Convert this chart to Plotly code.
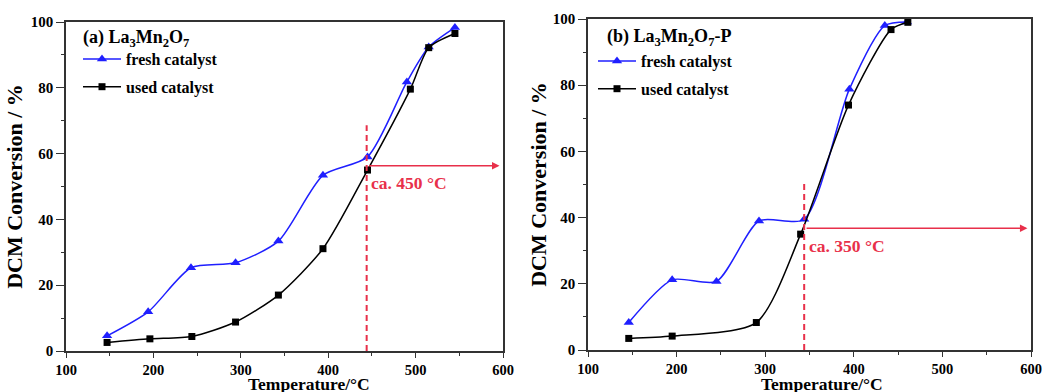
import plotly.graph_objects as go

# ---- data ----
a_fresh_T = [147, 194, 243, 294, 343, 394, 445, 490, 515, 545]
a_fresh_C = [4.6, 11.9, 25.3, 26.8, 33.4, 53.4, 59.0, 81.8, 92.4, 98.3]
a_used_T = [147, 196, 244, 294, 343, 394, 445, 494, 515, 545]
a_used_C = [2.6, 3.7, 4.4, 8.8, 17.0, 31.1, 55.0, 79.6, 92.2, 96.5]

b_fresh_T = [146, 195, 245, 293, 344, 395, 435, 460]
b_fresh_C = [8.3, 21.2, 20.7, 39.0, 39.5, 78.8, 98.0, 99.1]
b_used_T = [146, 195, 290, 340, 394, 442, 461]
b_used_C = [3.5, 4.2, 8.3, 35.0, 74.0, 96.8, 99.0]

a_mark_T, a_mark_top, a_arrow_C, a_label = 444, 68.6, 56.3, "ca. 450 °C"
b_mark_T, b_mark_top, b_arrow_C, b_label = 344, 50.9, 36.8, "ca. 350 °C"

x_ticks = [100, 200, 300, 400, 500, 600]
y_ticks = [0, 20, 40, 60, 80, 100]
x_title = "Temperature/°C"
y_title = "DCM Conversion / %"

W, H = 1042, 392
ML, MR, MT, MB = 66, 11, 19, 41
PW, PH = W - ML - MR, H - MT - MB
FONT = "Liberation Serif"
BLUE = "#1f1fff"
RED = "#e8304a"

fig = go.Figure()

def add_panel(xa, ya, leg, fT, fC, uT, uC):
    fig.add_trace(go.Scatter(x=fT, y=fC, mode="lines+markers", name="fresh catalyst",
                             line=dict(color=BLUE, width=1.5, shape="spline", smoothing=0.7),
                             marker=dict(symbol="triangle-up", size=9, color=BLUE),
                             xaxis=xa, yaxis=ya, legend=leg, legendgroup=leg + "f"))
    fig.add_trace(go.Scatter(x=uT, y=uC, mode="lines+markers", name="used catalyst",
                             line=dict(color="black", width=1.5, shape="spline", smoothing=0.7),
                             marker=dict(symbol="square", size=7, color="black"),
                             xaxis=xa, yaxis=ya, legend=leg, legendgroup=leg + "u"))

add_panel("x", "y", "legend", a_fresh_T, a_fresh_C, a_used_T, a_used_C)
add_panel("x2", "y2", "legend2", b_fresh_T, b_fresh_C, b_used_T, b_used_C)

# page pixel -> paper fraction (paper = area inside the margins)
def px_x(p):
    return (p - ML) / PW

def px_y(p):
    return (H - MB - p) / PH

axis_common = dict(showline=True, linecolor="#333", linewidth=1.5, mirror=True,
                   ticks="outside", tickwidth=1.2, tickcolor="#333",
                   showgrid=False, zeroline=False, automargin=False,
                   ticklabeloverflow="allow",
                   tickfont=dict(family=FONT, size=15, color="black", weight="bold"))

xcommon = dict(axis_common, range=[100, 600], tickvals=x_ticks, ticklen=5,
               tickfont=dict(family=FONT, size=14.5, color="black", weight="bold"),
               minor=dict(ticks="outside", ticklen=3, dtick=50, tickcolor="#333", tickwidth=1))

def ycommon(standoff):
    return dict(axis_common, range=[0, 100], tickvals=y_ticks, ticklen=8,
                minor=dict(ticks="outside", ticklen=3, dtick=10, tickcolor="#333", tickwidth=1),
                title=dict(text=y_title, standoff=standoff,
                           font=dict(family=FONT, size=22, color="black", weight="bold")))

legend_common = dict(xanchor="left", yanchor="top", bgcolor="rgba(0,0,0,0)",
                     traceorder="grouped", tracegroupgap=4, itemsizing="trace",
                     itemwidth=38,
                     font=dict(family=FONT, size=16, color="black", weight="bold"))

fig.update_layout(
    width=W, height=H, margin=dict(l=ML, r=MR, t=MT, b=MB, autoexpand=False),
    paper_bgcolor="white", plot_bgcolor="white",
    xaxis=dict(xcommon, domain=[px_x(66), px_x(503)], anchor="y"),
    yaxis=dict(ycommon(2), domain=[px_y(351), px_y(22)], anchor="x"),
    xaxis2=dict(xcommon, domain=[px_x(588), min(1.0, px_x(1031))], anchor="y2"),
    yaxis2=dict(ycommon(0), domain=[px_y(350), min(1.0, px_y(19))], anchor="x2"),
    legend=dict(legend_common, x=px_x(78), y=px_y(42)),
    legend2=dict(legend_common, x=px_x(593), y=px_y(44)),
    showlegend=True,
)

# x-axis titles
for cx in (309, 822):
    fig.add_annotation(x=px_x(cx), y=px_y(384), xref="paper", yref="paper",
                       xanchor="center", yanchor="middle", showarrow=False, text=x_title,
                       font=dict(family=FONT, size=17.5, color="black", weight="bold"))

# panel titles
fig.add_annotation(x=px_x(81), y=px_y(38), xref="paper", yref="paper", xanchor="left",
                   yanchor="middle", showarrow=False,
                   text="(a) La<sub>3</sub>Mn<sub>2</sub>O<sub>7</sub>",
                   font=dict(family=FONT, size=18, color="black", weight="bold"))
fig.add_annotation(x=px_x(605), y=px_y(37), xref="paper", yref="paper", xanchor="left",
                   yanchor="middle", showarrow=False,
                   text="(b) La<sub>3</sub>Mn<sub>2</sub>O<sub>7</sub>-P",
                   font=dict(family=FONT, size=18, color="black", weight="bold"))

def marker_lines(xr, yr, T, top, C, label):
    fig.add_shape(type="line", xref=xr, yref=yr, x0=T, x1=T, y0=0, y1=top,
                  line=dict(color=RED, width=2, dash="6px,4px"))
    fig.add_annotation(xref=xr, yref=yr, axref=xr, ayref=yr, x=596, y=C, ax=T + 1, ay=C,
                       showarrow=True, arrowhead=2, arrowsize=1, arrowwidth=1.5,
                       arrowcolor=RED, text="")
    fig.add_annotation(xref=xr, yref=yr, x=T + 3, y=C - 5.3, xanchor="left", yanchor="middle",
                       showarrow=False, text=label,
                       font=dict(family=FONT, size=17.5, color=RED, weight="bold"))

marker_lines("x", "y", a_mark_T, a_mark_top, a_arrow_C, a_label)
marker_lines("x2", "y2", b_mark_T, b_mark_top, b_arrow_C, b_label)

fig.write_html("out.html")
